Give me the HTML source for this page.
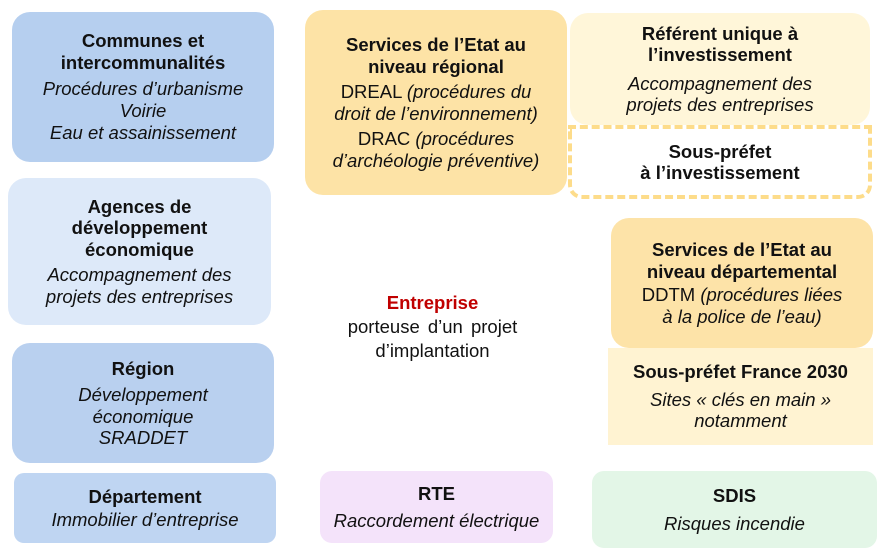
<!DOCTYPE html>
<html><head><meta charset="utf-8"><style>
body{margin:0;width:888px;height:558px;background:#fff;position:relative;overflow:hidden;font-family:"Liberation Sans",Arial,sans-serif;color:#111;}
.b{position:absolute;box-sizing:border-box;border-radius:18px;display:flex;flex-direction:column;align-items:center;justify-content:center;text-align:center;font-size:18.5px;line-height:21.5px;white-space:nowrap;}
.t{font-weight:bold;font-size:18.5px;}
i{font-style:italic;}
</style></head><body>
<div class="b" style="left:12px;top:12px;width:262px;height:150px;background:#b6cfef;"><div class="t">Communes et<br>intercommunalités</div><div style="margin-top:5px"><i>Procédures d’urbanisme<br>Voirie</i></div><div style="margin-top:1px"><i>Eau et assainissement</i></div></div>
<div class="b" style="left:8px;top:178px;width:263px;height:147px;background:#dde9f9;"><div class="t">Agences de<br>développement<br>économique</div><div style="margin-top:4px"><i>Accompagnement des<br>projets des entreprises</i></div></div>
<div class="b" style="left:12px;top:343px;width:262px;height:120px;background:#b9d0ef;"><div class="t">Région</div><div style="margin-top:5px"><i>Développement<br>économique<br>SRADDET</i></div></div>
<div class="b" style="left:14px;top:473px;width:262px;height:70px;background:#bfd5f2;border-radius:10px;"><div class="t">Département</div><div style="margin-top:1px"><i>Immobilier d’entreprise</i></div></div>

<div class="b" style="left:305px;top:10px;width:262px;height:185px;background:#fde3a6;"><div class="t">Services de l’Etat au<br>niveau régional</div><div style="margin-top:4px">DREAL <i>(procédures du<br>droit de l’environnement)</i></div><div style="margin-top:4px">DRAC <i>(procédures<br>d’archéologie préventive)</i></div></div>

<div class="b" style="left:570px;top:13px;width:300px;height:112px;background:#fff6d9;"><div class="t">Référent unique à<br>l’investissement</div><div style="margin-top:7px"><i>Accompagnement des<br>projets des entreprises</i></div></div>
<div class="b" style="left:568px;top:125px;width:304px;height:74px;border:4px dashed #fddc8a;border-radius:14px;border-top-left-radius:0;border-top-right-radius:0;"><div class="t">Sous-préfet<br>à l’investissement</div></div>

<div class="b" style="left:611px;top:218px;width:262px;height:130px;background:#fde3a8;"><div class="t">Services de l’Etat au<br>niveau départemental</div><div style="margin-top:2px">DDTM <i>(procédures liées<br>à la police de l’eau)</i></div></div>
<div class="b" style="left:608px;top:348px;width:265px;height:97px;background:#fff3d2;border-radius:0;"><div class="t">Sous-préfet France 2030</div><div style="margin-top:6px"><i>Sites « clés en main »<br>notamment</i></div></div>

<div class="b" style="left:320px;top:290px;width:225px;height:74px;line-height:24px;"><div class="t" style="color:#c00000">Entreprise</div><div style="word-spacing:3px">porteuse d’un projet<br>d’implantation</div></div>

<div class="b" style="left:320px;top:471px;width:233px;height:72px;background:#f4e3fa;border-radius:12px;"><div class="t">RTE</div><div style="margin-top:6px"><i>Raccordement électrique</i></div></div>
<div class="b" style="left:592px;top:471px;width:285px;height:77px;background:#e3f6e7;border-radius:12px;"><div class="t">SDIS</div><div style="margin-top:6px"><i>Risques incendie</i></div></div>
</body></html>
